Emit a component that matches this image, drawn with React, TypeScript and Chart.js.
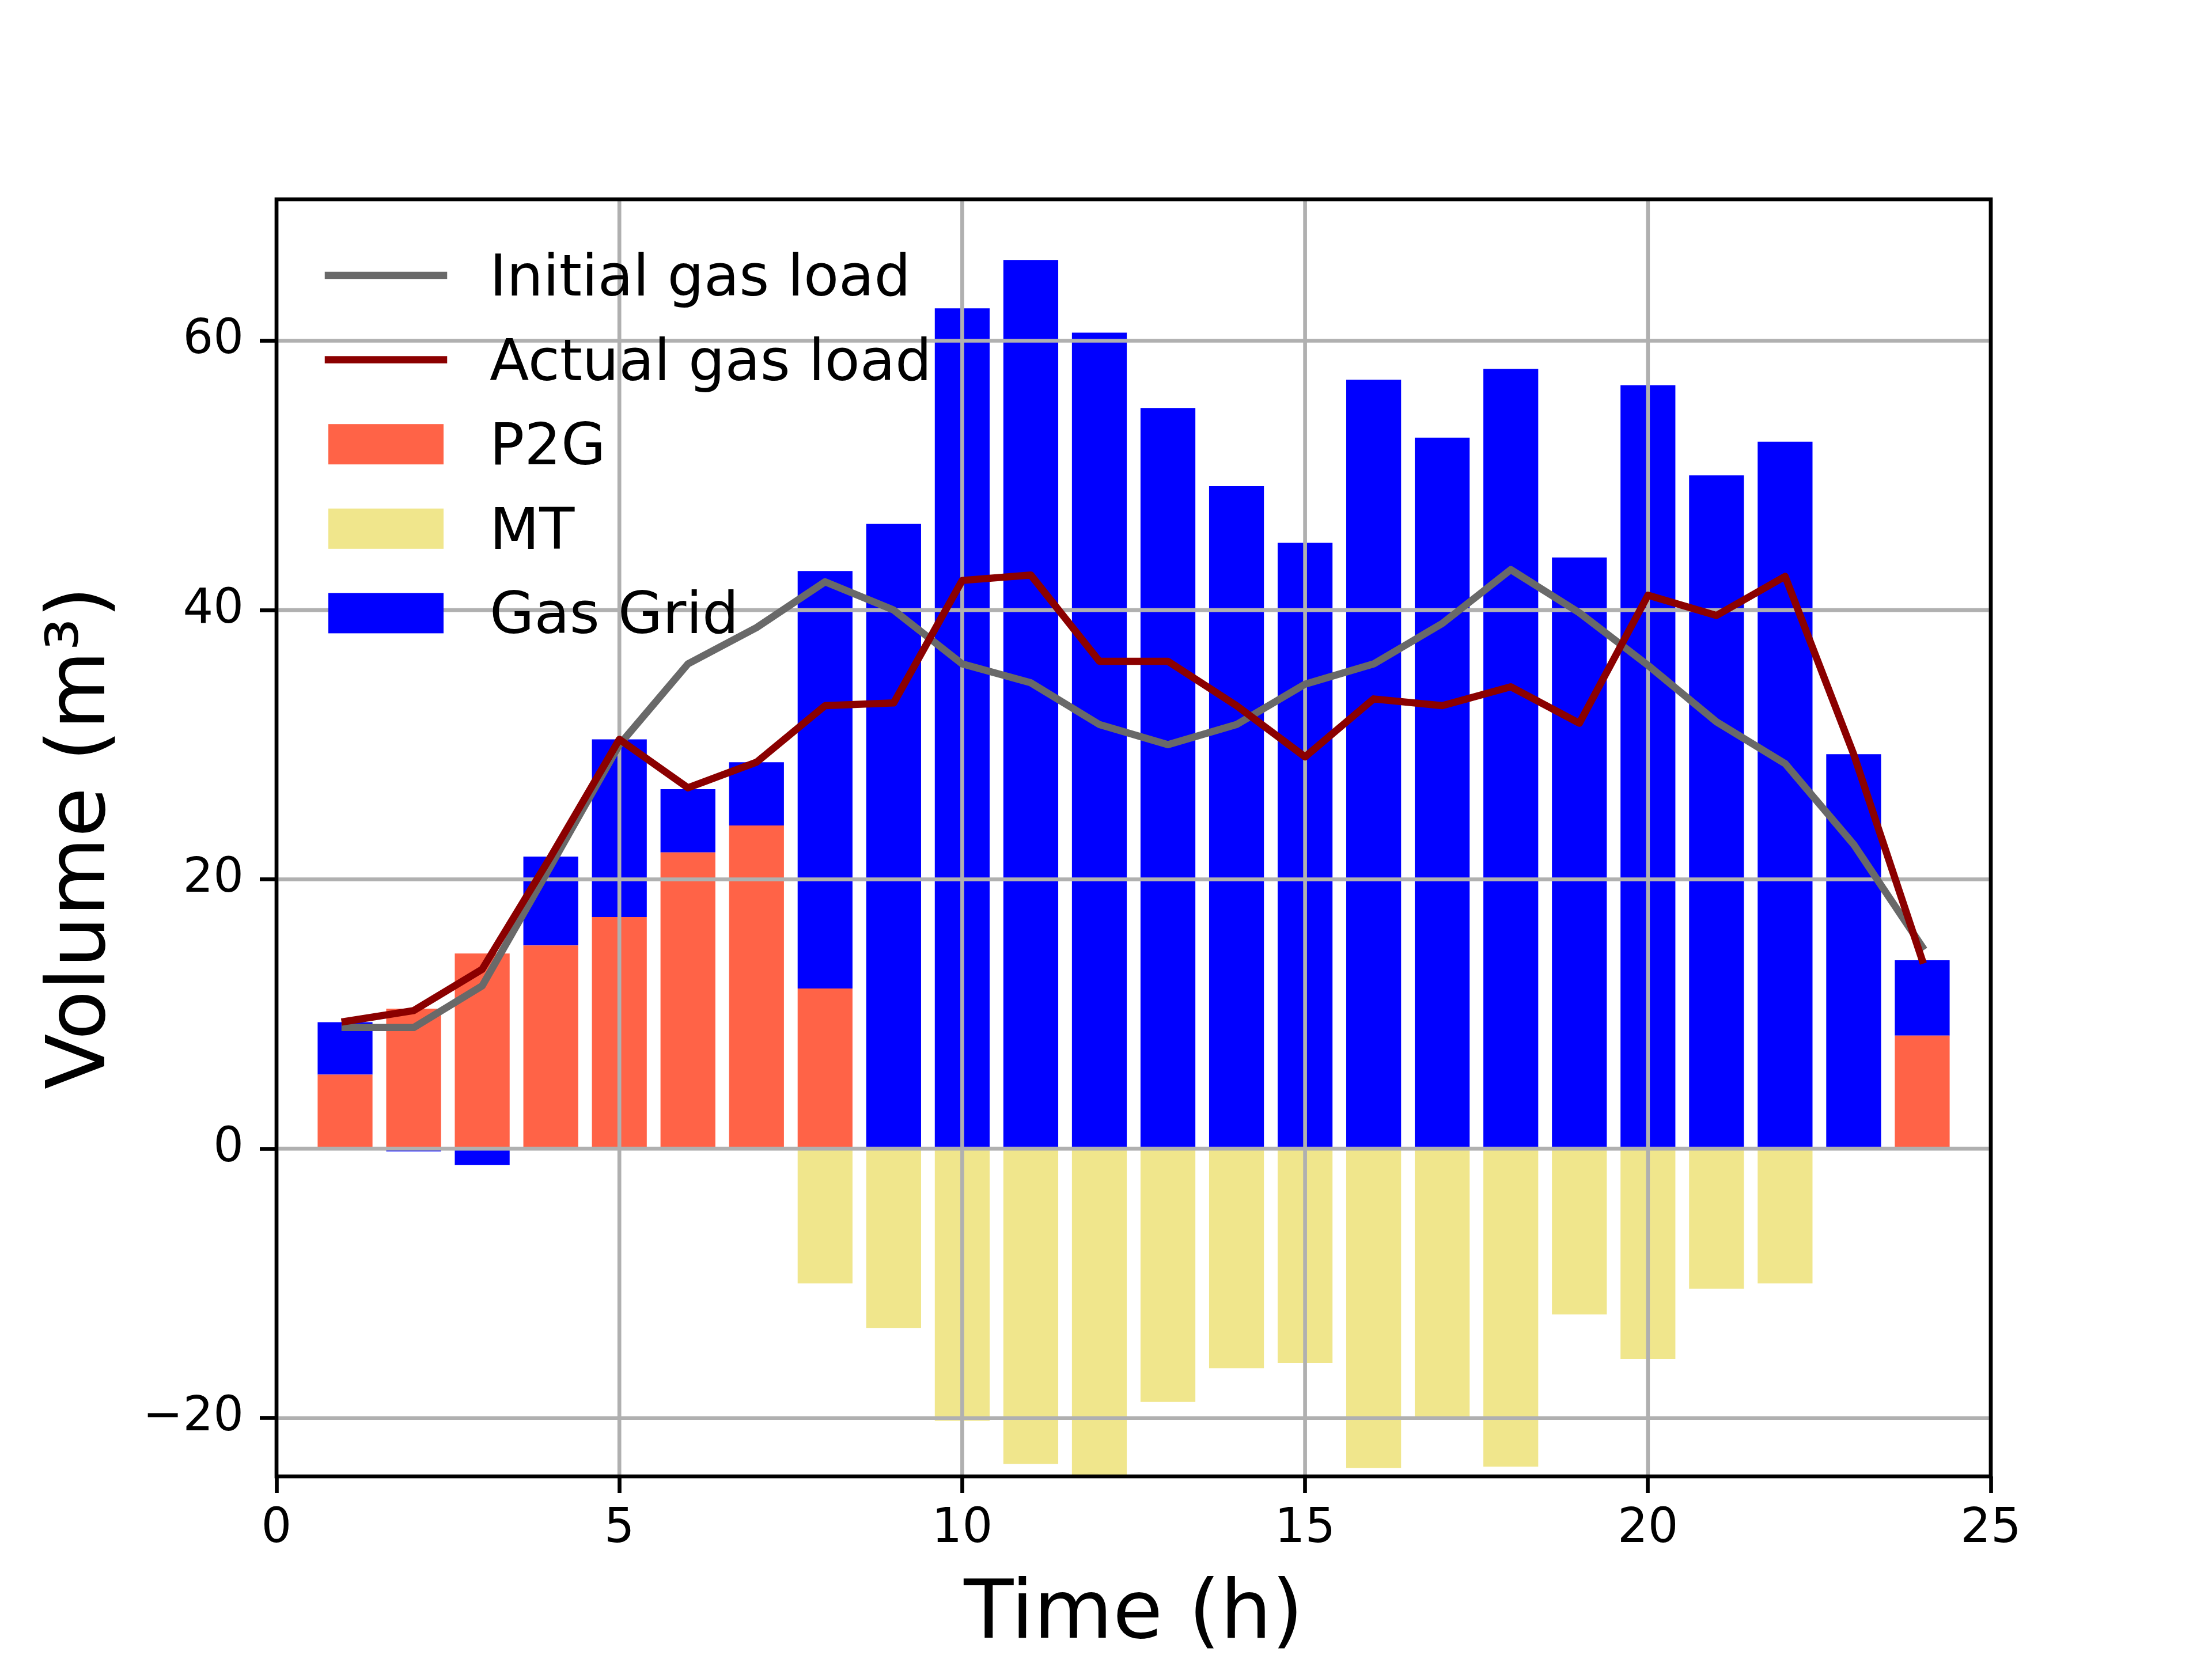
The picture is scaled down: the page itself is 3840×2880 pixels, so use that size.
import { useEffect, useRef } from "react"
import { Chart, registerables, type ChartConfiguration, type Plugin } from "chart.js"

Chart.register(...registerables)

// hours of the day
const hours = [1, 2, 3, 4, 5, 6, 7, 8, 9, 10, 11, 12, 13, 14, 15, 16, 17, 18, 19, 20, 21, 22, 23, 24]

// bar series (m³)
const p2g = [5.5, 10.4, 14.5, 15.1, 17.2, 22.0, 24.0, 11.9, 0, 0, 0, 0, 0, 0, 0, 0, 0, 0, 0, 0, 0, 0, 0, 8.4]
const mt = [0, 0, 0, 0, 0, 0, 0, -10.0, -13.3, -20.2, -23.4, -24.5, -18.8, -16.3, -15.9, -23.7, -19.9, -23.6, -12.3, -15.6, -10.4, -10.0, 0, 0]
const gasGrid = [3.9, -0.2, -1.2, 6.6, 13.2, 4.7, 4.7, 31.0, 46.4, 62.4, 66.0, 60.6, 55.0, 49.2, 45.0, 57.1, 52.8, 57.9, 43.9, 56.7, 50.0, 52.5, 29.3, 5.6]

// line series (m³)
const initialLoad = [9.0, 9.0, 12.1, 21.0, 30.0, 36.0, 38.7, 42.1, 40.0, 36.0, 34.6, 31.5, 30.0, 31.5, 34.5, 36.0, 39.0, 43.0, 39.8, 35.9, 31.7, 28.6, 22.6, 15.0]
const actualLoad = [9.45, 10.26, 13.33, 21.7, 30.4, 26.8, 28.7, 32.9, 33.1, 42.2, 42.6, 36.2, 36.2, 32.9, 29.1, 33.4, 32.9, 34.3, 31.6, 41.1, 39.6, 42.5, 29.3, 14.0]

const legendLabels = ["Initial gas load", "Actual gas load", "P2G", "MT", "Gas Grid"]

const COLORS = {
  initial: "#696969",
  actual: "#8b0000",
  p2g: "#ff6347",
  mt: "#f0e68c",
  grid: "#0000ff",
}

const FONT = "DejaVu Sans"
const LW = 6.67 // 0.8pt at 600 dpi

const toPoints = (ys: number[]) => hours.map((h, i) => ({ x: h, y: ys[i] }))

// gridlines above the bars but below the lines, plus frame and legend
const overlay: Plugin = {
  id: "overlay",
  afterDatasetDraw(chart, args) {
    if (args.index !== 2) return
    const { ctx, chartArea: a } = chart
    const x = chart.scales.x
    const y = chart.scales.y
    ctx.save()
    ctx.beginPath()
    ctx.rect(a.left, a.top, a.width, a.height)
    ctx.clip()
    ctx.strokeStyle = "#b0b0b0"
    ctx.lineWidth = LW
    ctx.beginPath()
    x.ticks.forEach((t) => {
      const px = x.getPixelForValue(t.value)
      ctx.moveTo(px, a.top)
      ctx.lineTo(px, a.bottom)
    })
    y.ticks.forEach((t) => {
      const py = y.getPixelForValue(t.value)
      ctx.moveTo(a.left, py)
      ctx.lineTo(a.right, py)
    })
    ctx.stroke()
    ctx.restore()
  },
  afterDraw(chart) {
    const { ctx, chartArea: a } = chart
    ctx.save()
    ctx.strokeStyle = "#000"
    ctx.lineWidth = LW
    ctx.strokeRect(a.left, a.top, a.width, a.height)

    // legend, upper left, no frame
    const colors = [COLORS.initial, COLORS.actual, COLORS.p2g, COLORS.mt, COLORS.grid]
    ctx.font = `100px "${FONT}"`
    ctx.textBaseline = "alphabetic"
    ctx.textAlign = "left"
    legendLabels.forEach((label, i) => {
      const cy = 478 + i * 146.6
      if (i < 2) {
        ctx.strokeStyle = colors[i]
        ctx.lineWidth = 12.5
        ctx.lineCap = "square"
        ctx.beginPath()
        ctx.moveTo(570, cy)
        ctx.lineTo(770, cy)
        ctx.stroke()
      } else {
        ctx.fillStyle = colors[i]
        ctx.fillRect(570, cy - 35, 200, 70)
      }
      ctx.fillStyle = "#000"
      ctx.fillText(label, 850, cy + 35)
    })
    ctx.restore()
  },
}

export default function App() {
  const chartRef = useRef<HTMLCanvasElement>(null)
  const chartInstance = useRef<Chart | null>(null)

  useEffect(() => {
    if (!chartRef.current) return
    const ctx = chartRef.current.getContext("2d")
    if (!ctx) return

    if (chartInstance.current) {
      chartInstance.current.destroy()
    }

    const tickFont = { family: FONT, size: 83 }

    const config: ChartConfiguration = {
      type: "bar",
      data: {
        datasets: [
          {
            type: "line",
            label: legendLabels[0],
            data: toPoints(initialLoad),
            borderColor: COLORS.initial,
            borderWidth: 12.5,
            pointRadius: 0,
            fill: false,
            tension: 0,
            borderJoinStyle: "round",
            borderCapStyle: "square",
            stack: "initial",
            order: 1,
          },
          {
            type: "line",
            label: legendLabels[1],
            data: toPoints(actualLoad),
            borderColor: COLORS.actual,
            borderWidth: 12.5,
            pointRadius: 0,
            fill: false,
            tension: 0,
            borderJoinStyle: "round",
            borderCapStyle: "square",
            stack: "actual",
            order: 0,
          },
          {
            type: "bar",
            label: legendLabels[2],
            data: toPoints(p2g),
            backgroundColor: COLORS.p2g,
            borderWidth: 0,
            stack: "bars",
            order: 2,
          },
          {
            type: "bar",
            label: legendLabels[3],
            data: toPoints(mt),
            backgroundColor: COLORS.mt,
            borderWidth: 0,
            stack: "bars",
            order: 2,
          },
          {
            type: "bar",
            label: legendLabels[4],
            data: toPoints(gasGrid),
            backgroundColor: COLORS.grid,
            borderWidth: 0,
            stack: "bars",
            order: 2,
          },
        ],
      },
      options: {
        responsive: false,
        animation: false,
        layout: { padding: { left: 0, top: 346, right: 384, bottom: 0 } },
        datasets: {
          bar: { barPercentage: 0.8, categoryPercentage: 1.0 },
        },
        scales: {
          x: {
            type: "linear",
            min: 0,
            max: 25,
            offset: false,
            grid: {
              offset: false,
              drawOnChartArea: false,
              drawTicks: true,
              tickLength: 29,
              tickWidth: LW,
              tickColor: "#000",
            },
            border: { display: false },
            ticks: {
              stepSize: 5,
              autoSkip: false,
              maxRotation: 0,
              padding: 14,
              color: "#000",
              font: tickFont,
            },
            title: {
              display: true,
              text: "Time (h)",
              color: "#000",
              font: { family: FONT, size: 141, lineHeight: 1.05 },
              padding: { top: 0, bottom: 0 },
            },
            afterFit: (scale) => {
              scale.height = 317
            },
          },
          y: {
            type: "linear",
            stacked: true,
            min: -24.33,
            max: 70.5,
            grid: {
              drawOnChartArea: false,
              drawTicks: true,
              tickLength: 29,
              tickWidth: LW,
              tickColor: "#000",
            },
            border: { display: false },
            ticks: {
              stepSize: 20,
              includeBounds: false,
              padding: 28,
              color: "#000",
              font: tickFont,
              callback: (value) => String(value).replace("-", "\u2212"),
            },
            title: {
              display: true,
              text: "Volume (m\u00b3)",
              color: "#000",
              font: { family: FONT, size: 141 },
              padding: { top: 60, bottom: 0 },
            },
            afterFit: (scale) => {
              scale.width = 480
            },
          },
        },
        plugins: {
          legend: { display: false },
          tooltip: { enabled: false },
        },
      },
      plugins: [overlay],
    }

    chartInstance.current = new Chart(ctx, config)

    return () => {
      if (chartInstance.current) {
        chartInstance.current.destroy()
        chartInstance.current = null
      }
    }
  }, [])

  return (
    <div style={{ position: "absolute", left: 0, top: 0, width: 3840, height: 2880, background: "#fff" }}>
      <canvas ref={chartRef} width={3840} height={2880} style={{ display: "block", width: 3840, height: 2880 }} />
    </div>
  )
}
